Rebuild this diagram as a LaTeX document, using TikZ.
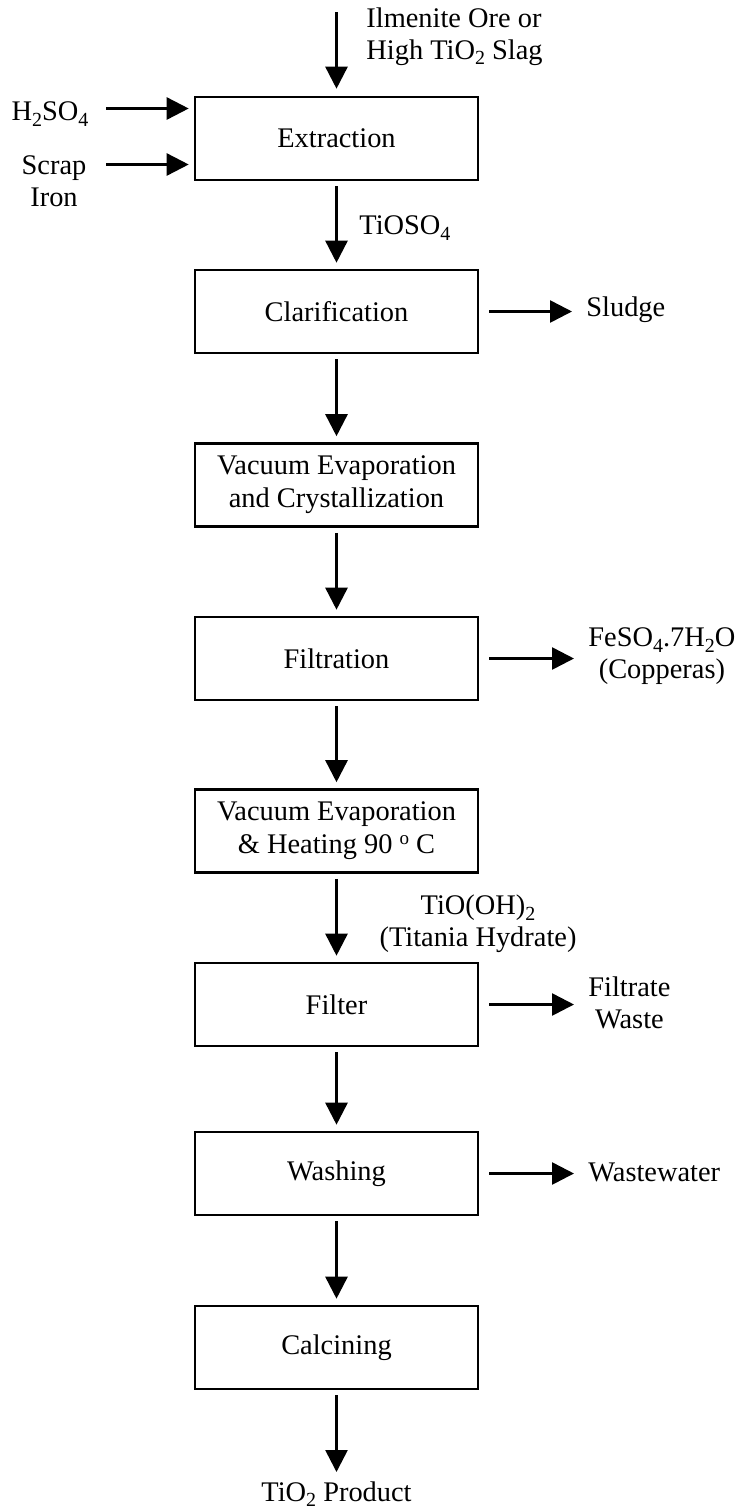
\documentclass[tikz,border=0pt]{standalone}
\usepackage{fontspec}
\setmainfont{Liberation Serif}
\usetikzlibrary{arrows.meta}
% chemical subscripts, set a little lower than \textsubscript
\newcommand{\chsub}[1]{\raisebox{-2.6pt}{\fontsize{10}{10}\selectfont #1}}
\newcommand{\degsup}{\raisebox{4.8pt}{\fontsize{9.5}{10}\selectfont o}}
\begin{document}
\begin{tikzpicture}[x=0.5pt,y=-0.5pt,
  stage/.style={draw,line width=1.3pt,minimum width=141.5pt,minimum height=41.5pt,
    inner sep=0pt,align=center,font=\fontsize{14.2}{16.5}\selectfont},
  lbl/.style={inner sep=0pt,font=\fontsize{14.2}{16}\selectfont},
  flow/.style={line width=1.3pt,-{Triangle[length=11pt,width=11pt]}},
  down/.style={flow,shorten <=2.5pt,shorten >=3pt},
  side/.style={flow,shorten <=5pt,shorten >=7pt},
]
\useasboundingbox (0,0) rectangle (736,1510);

% process stages
\node[stage] (ext) at (336.5,138.5) {Extraction};
\node[stage] (cla) at (336.5,311.5) {Clarification};
\node[stage] (vec) at (336.5,485) {Vacuum Evaporation\\and Crystallization};
\node[stage] (fil) at (336.5,658.5) {Filtration};
\node[stage] (veh) at (336.5,831) {Vacuum Evaporation\\\& Heating 90 \degsup\ C};
\node[stage] (flt) at (336.5,1004.5) {Filter};
\node[stage] (was) at (336.5,1173.5) {Washing};
\node[stage] (cal) at (336.5,1347.5) {Calcining};

% feeds into extraction
\coordinate (orein) at (336.5,12);
\node[lbl,align=left,anchor=west] (ore) at (366,37) {Ilmenite Ore or\\High TiO\chsub{2} Slag};
\draw[flow,shorten >=3.5pt] (orein) -- (ext);

\node[lbl] (acid) at (50,114) {H\chsub{2}SO\chsub{4}};
\coordinate (acidin) at (106,108.5);
\draw[flow,shorten >=2.5pt] (acidin) -- (acidin -| ext.west);

\node[lbl,align=center] (iron) at (54,181) {Scrap\\Iron};
\coordinate (ironin) at (106,164.5);
\draw[flow,shorten >=2.5pt] (ironin) -- (ironin -| ext.west);

% main line
\draw[down] (ext) -- (cla);
\node[lbl,anchor=west] (tioso) at (359,228) {TiOSO\chsub{4}};
\draw[down] (cla) -- (vec);
\draw[down] (vec) -- (fil);
\draw[down] (fil) -- (veh);
\draw[down] (veh) -- (flt);
\node[lbl,align=center] (hyd) at (478,924) {TiO(OH)\chsub{2}\\(Titania Hydrate)};
\draw[down] (flt) -- (was);
\draw[down] (was) -- (cal);

% product
\coordinate (prodtip) at (336.5,1472);
\node[lbl] (prod) at (336.5,1494) {TiO\chsub{2} Product};
\draw[flow,shorten <=2.5pt] (cal) -- (prodtip);

% side streams
\node[lbl,anchor=west] (sludge) at (586,310) {Sludge};
\draw[side] (cla.east) -- (cla.east -| sludge.west);

\node[lbl,align=center,anchor=west] (copp) at (588,656.5) {FeSO\chsub{4}.7H\chsub{2}O\\(Copperas)};
\draw[side] (fil.east) -- (fil.east -| copp.west);

\node[lbl,align=center,anchor=west] (filtrate) at (588,1003) {Filtrate\\Waste};
\draw[side] (flt.east) -- (flt.east -| filtrate.west);

\node[lbl,anchor=west] (wastew) at (588,1172) {Wastewater};
\draw[side] (was.east) -- (was.east -| wastew.west);
\end{tikzpicture}
\end{document}
